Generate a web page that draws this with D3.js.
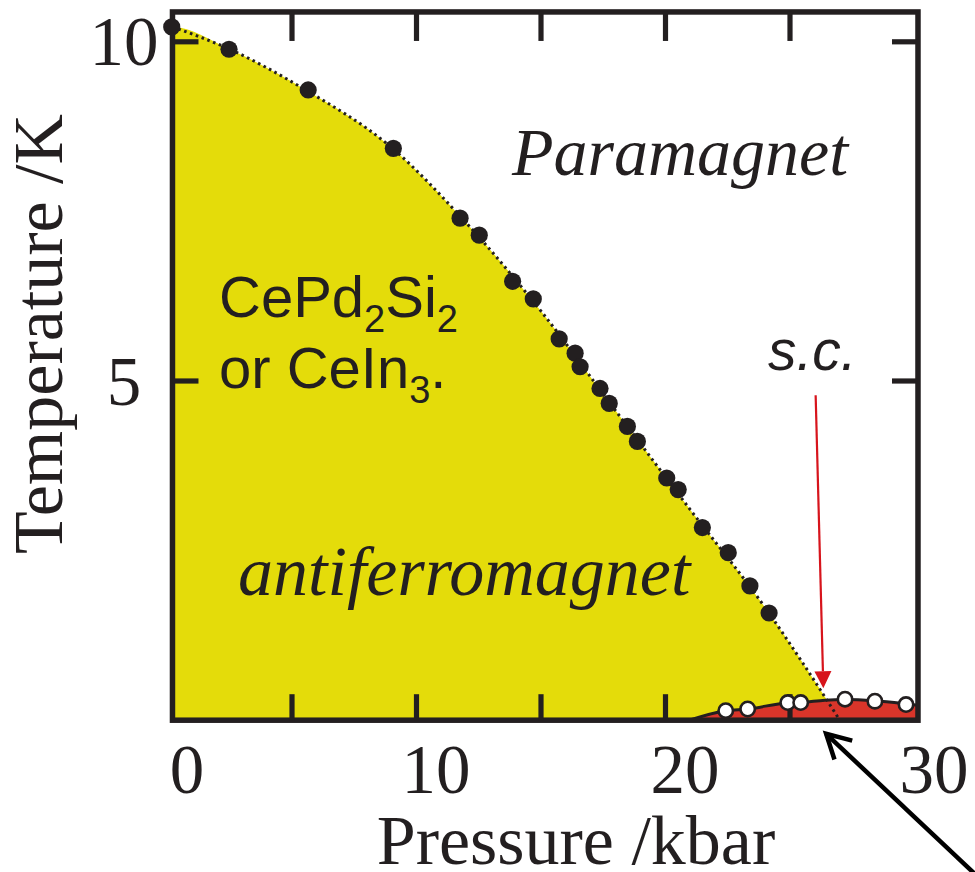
<!DOCTYPE html>
<html>
<head>
<meta charset="utf-8">
<script src="https://cdn.jsdelivr.net/npm/d3@7"></script>
<style>
  html, body { margin: 0; padding: 0; background: #ffffff; }
  svg { display: block; }
</style>
</head>
<body>
<svg id="chart" width="975" height="872"></svg>
<script>
// Néel temperature measured at each pressure (filled circles)
const afPressure    = [0.17, 2.47, 5.65, 9.07, 11.75, 12.52, 13.86, 14.69, 15.73, 16.37, 16.57,
                       17.37, 17.74, 18.47, 18.87, 20.05, 20.51, 21.48, 22.52, 23.39, 24.16];
const afTemperature = [10.22, 9.89, 9.29, 8.43, 7.40, 7.15, 6.47, 6.21, 5.62, 5.41, 5.21,
                       4.89, 4.67, 4.33, 4.11, 3.57, 3.40, 2.84, 2.47, 1.98, 1.58];

// Superconducting transition temperature (open circles)
const scPressure    = [22.42, 23.30, 24.91, 25.43, 27.21, 28.41, 29.66];
const scTemperature = [0.14, 0.165, 0.26, 0.26, 0.31, 0.28, 0.23];

// Antiferromagnetic phase boundary (dotted guide line)
const afLineP = [0.2, 2.5, 5.5, 9, 12, 15, 18, 21, 24, 25.5, 27.0];
const afLineT = [10.22, 9.89, 9.30, 8.44, 7.33, 6.03, 4.56, 3.10, 1.66, 0.85, 0];

// Superconducting dome boundary
const scLineP = [20.95, 22.42, 23.30, 24.91, 25.43, 26.4, 27.21, 28.41, 29.66, 30.14];
const scLineT = [0, 0.14, 0.165, 0.255, 0.26, 0.295, 0.305, 0.285, 0.24, 0.22];

// Axis ticks and labels
const xTickValues  = [5, 10, 15, 20, 25];
const xLabelValues = [0, 10, 20, 30];
const yTickValues  = [5, 10];
const yLabelValues = [5, 10];

const pRange = [0.2, 30.14];   // frame extent in kbar
const tRange = [0, 10.44];     // frame extent in K

const ink = "#231f20";
const yellow = "#e4dc0a";
const red = "#d9352a";
const arrowRed = "#d7141c";

const svg = d3.select("#chart");

const x = d3.scaleLinear().domain([0, 30]).range([167.5, 914.5]);
const y = d3.scaleLinear().domain([0, 10]).range([720.2, 41.8]);

const x0 = x(pRange[0]), x1 = x(pRange[1]);
const y0 = y(tRange[0]), y1 = y(tRange[1]);

svg.append("defs").append("clipPath").attr("id", "plotClip")
  .append("rect").attr("x", x0).attr("y", y1).attr("width", x1 - x0).attr("height", y0 - y1);

const plot = svg.append("g").attr("clip-path", "url(#plotClip)");

const afLine = d3.zip(afLineP, afLineT);
const scLine = d3.zip(scLineP, scLineT);

// antiferromagnetic region
plot.append("path")
  .datum([[pRange[0], 0], ...afLine])
  .attr("fill", yellow)
  .attr("d", d3.area().x(d => x(d[0])).y0(y(0) + 4).y1(d => y(d[1])).curve(d3.curveMonotoneX));

// superconducting region
plot.append("path")
  .datum(scLine)
  .attr("fill", red)
  .attr("d", d3.area().x(d => x(d[0])).y0(y(0) + 4).y1(d => y(d[1])).curve(d3.curveMonotoneX));
plot.append("path")
  .datum(scLine)
  .attr("fill", "none")
  .attr("stroke", ink)
  .attr("stroke-width", 3)
  .attr("d", d3.line().x(d => x(d[0])).y(d => y(d[1])).curve(d3.curveMonotoneX));

// dotted phase-boundary guide
plot.append("path")
  .datum(afLine)
  .attr("fill", "none")
  .attr("stroke", ink)
  .attr("stroke-width", 3)
  .attr("stroke-dasharray", "2.6,3.6")
  .attr("d", d3.line().x(d => x(d[0])).y(d => y(d[1])).curve(d3.curveMonotoneX));

// frame
svg.append("rect")
  .attr("x", x0).attr("y", y1)
  .attr("width", x1 - x0).attr("height", y0 - y1)
  .attr("fill", "none").attr("stroke", ink).attr("stroke-width", 5.5);

// inward ticks on all four sides
const tickLen = 26;
const ticks = svg.append("g").attr("stroke", ink).attr("stroke-width", 5.2);
ticks.selectAll(".xb").data(xTickValues).join("line")
  .attr("x1", d => x(d)).attr("x2", d => x(d))
  .attr("y1", y0).attr("y2", y0 - tickLen);
ticks.selectAll(".xt").data(xTickValues).join("line")
  .attr("x1", d => x(d)).attr("x2", d => x(d))
  .attr("y1", y1).attr("y2", y1 + tickLen + 3);
ticks.selectAll(".yl").data(yTickValues).join("line")
  .attr("x1", x0).attr("x2", x0 + tickLen)
  .attr("y1", d => y(d)).attr("y2", d => y(d));
ticks.selectAll(".yr").data(yTickValues).join("line")
  .attr("x1", x1).attr("x2", x1 - tickLen)
  .attr("y1", d => y(d)).attr("y2", d => y(d));

// tick labels
const serif = "'Liberation Serif', 'Times New Roman', serif";
const sans = "'Liberation Sans', Arial, sans-serif";

const xAxis = svg.append("g")
  .attr("transform", "translate(0,793)")
  .call(d3.axisBottom(x).tickValues(xLabelValues).tickSize(0).tickFormat(d3.format("d")));
xAxis.select(".domain").remove();
xAxis.selectAll("text")
  .attr("y", 0).attr("dy", 0).attr("dx", 19)
  .attr("fill", ink)
  .style("font-family", serif).style("font-size", "69px");

const yAxis = svg.append("g")
  .attr("transform", "translate(124,0)")
  .call(d3.axisLeft(y).tickValues(yLabelValues).tickSize(0).tickFormat(d3.format("d")));
yAxis.select(".domain").remove();
yAxis.selectAll("text")
  .attr("x", 0).attr("dy", 23)
  .attr("text-anchor", "middle")
  .attr("fill", ink)
  .style("font-family", serif).style("font-size", "69px");

// axis titles
svg.append("text")
  .attr("x", 576).attr("y", 864)
  .attr("text-anchor", "middle")
  .attr("fill", ink)
  .style("font-family", serif).style("font-size", "70px")
  .text("Pressure /kbar");

svg.append("text")
  .attr("transform", "translate(62,334) rotate(-90)")
  .attr("text-anchor", "middle")
  .attr("fill", ink)
  .style("font-family", serif).style("font-size", "70px")
  .text("Temperature /K");

// data points
svg.append("g").selectAll("circle")
  .data(d3.zip(afPressure, afTemperature))
  .join("circle")
  .attr("cx", d => x(d[0])).attr("cy", d => y(d[1]))
  .attr("r", 8.6)
  .attr("fill", ink);

svg.append("g").selectAll("circle")
  .data(d3.zip(scPressure, scTemperature))
  .join("circle")
  .attr("cx", d => x(d[0])).attr("cy", d => y(d[1]))
  .attr("r", 7.2)
  .attr("fill", "#ffffff")
  .attr("stroke", ink)
  .attr("stroke-width", 2.6);

// region labels
svg.append("text")
  .attr("x", 512).attr("y", 175)
  .attr("fill", ink)
  .style("font-family", serif).style("font-style", "italic").style("font-size", "68px")
  .text("Paramagnet");

svg.append("text")
  .attr("x", 238).attr("y", 595)
  .attr("fill", ink)
  .style("font-family", serif).style("font-style", "italic").style("font-size", "70px")
  .text("antiferromagnet");

const compound = svg.append("g")
  .attr("fill", ink)
  .style("font-family", sans).style("font-size", "58px");
const line1 = compound.append("text").attr("x", 219).attr("y", 317);
line1.append("tspan").text("CePd");
line1.append("tspan").attr("dy", 15).style("font-size", "38px").text("2");
line1.append("tspan").attr("dy", -15).text("Si");
line1.append("tspan").attr("dy", 15).style("font-size", "38px").text("2");
const line2 = compound.append("text").attr("x", 219).attr("y", 388);
line2.append("tspan").text("or CeIn");
line2.append("tspan").attr("dy", 15).style("font-size", "38px").text("3");
line2.append("tspan").attr("dy", -15).text(".");

svg.append("text")
  .attr("x", 768).attr("y", 370)
  .attr("fill", ink)
  .style("font-family", sans).style("font-style", "italic").style("font-size", "57px")
  .text("s.c.");

// red arrow pointing at the superconducting onset
const redFrom = [x(26.03), y(4.79)];
const redTip = [x(26.34), y(0.47)];
{
  const dx = redTip[0] - redFrom[0], dy = redTip[1] - redFrom[1];
  const len = Math.hypot(dx, dy), ux = dx / len, uy = dy / len;
  const headL = 17, headW = 8.5;
  const base = [redTip[0] - ux * headL, redTip[1] - uy * headL];
  svg.append("line")
    .attr("x1", redFrom[0]).attr("y1", redFrom[1])
    .attr("x2", base[0]).attr("y2", base[1])
    .attr("stroke", arrowRed).attr("stroke-width", 2.2);
  svg.append("path")
    .attr("fill", arrowRed)
    .attr("d", `M${redTip[0]},${redTip[1]}L${base[0] - uy * headW},${base[1] + ux * headW}L${base[0] + uy * headW},${base[1] - ux * headW}Z`);
}

// black arrow pointing at the critical pressure
const blackTip = [x(26.45), y(-0.2)];
const blackFrom = [x(33.1), y(-2.5)];
{
  const dx = blackFrom[0] - blackTip[0], dy = blackFrom[1] - blackTip[1];
  const ang = Math.atan2(dy, dx), legL = 27, spread = 0.5;
  const leg = s => [blackTip[0] + legL * Math.cos(ang + s), blackTip[1] + legL * Math.sin(ang + s)];
  const a = leg(spread), b = leg(-spread);
  svg.append("line")
    .attr("x1", blackTip[0]).attr("y1", blackTip[1])
    .attr("x2", blackFrom[0]).attr("y2", blackFrom[1])
    .attr("stroke", "#000").attr("stroke-width", 4.5);
  svg.append("path")
    .attr("fill", "none").attr("stroke", "#000").attr("stroke-width", 4.5)
    .attr("stroke-linejoin", "miter")
    .attr("d", `M${a[0]},${a[1]}L${blackTip[0]},${blackTip[1]}L${b[0]},${b[1]}`);
}
</script>
</body>
</html>
